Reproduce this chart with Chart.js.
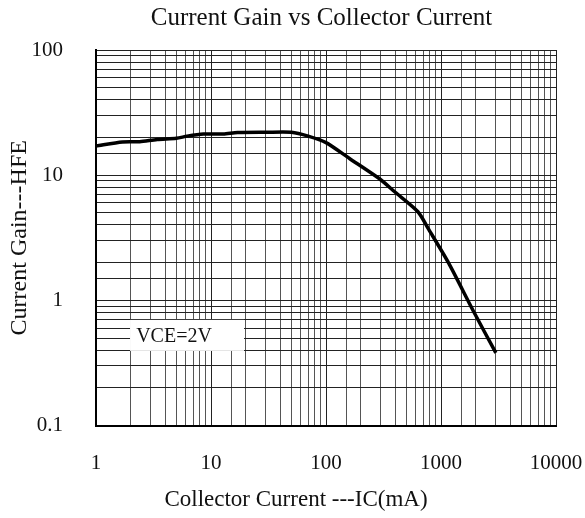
<!DOCTYPE html>
<html>
<head>
<meta charset="utf-8">
<script src="https://cdn.jsdelivr.net/npm/chart.js@4/dist/chart.umd.min.js"></script>
<style>
    html, body { margin: 0; padding: 0; background: #fff; }
    #wrap { width: 585px; height: 518px; }
</style>
</head>
<body>
<div id="wrap"><canvas id="gainChart"></canvas></div>
<script>
// collector current (mA) and current gain
var ic  = [1, 1.7, 2.4, 3.4, 5, 6.2, 8.6, 12.8, 17, 30, 50, 70, 100, 160, 290, 400, 630, 780, 1160, 1900, 3000];
var hfe = [17.1, 18.4, 18.5, 19.3, 19.7, 20.5, 21.3, 21.3, 21.9, 22.0, 22.0, 20.5, 18.2, 13.6, 9.4, 7.3, 5.1, 3.7, 2.0, 0.83, 0.38];

var xTicks = [1, 10, 100, 1000, 10000];
var yTicks = [0.1, 1, 10, 100];

var titleText = 'Current Gain vs Collector Current';
var xTitleText = 'Collector Current ---IC(mA)';
var yTitleText = 'Current Gain---HFE';

// note box inside the plot
var noteText = "VCE=2V";
var noteAt = { x: 4.77, y: 0.52 };

var serif = "'Liberation Serif', 'Times New Roman', serif";

function isDecade(v, list) {
    for (var i = 0; i < list.length; i++) {
        if (Math.abs(v - list[i]) < list[i] * 1e-6) return true;
    }
    return false;
}

// titles are not centred on the plot in the original, so they are placed by hand
var textPlugin = {
    id: 'texts',
    afterDatasetsDraw: function (chart) {
        var ctx = chart.ctx;
        var cx = chart.scales.x.getPixelForValue(noteAt.x);
        var cy = chart.scales.y.getPixelForValue(noteAt.y);
        ctx.save();
        ctx.fillStyle = '#fff';
        ctx.fillRect(cx - 44, cy - 16, 114, 31);
        ctx.fillStyle = '#111';
        ctx.textAlign = 'center';
        ctx.textBaseline = 'middle';
        ctx.font = '20px ' + serif;
        ctx.fillText(noteText, cx, cy + 1);
        ctx.font = '25px ' + serif;
        ctx.fillText(titleText, 321.5, 18);
        ctx.font = '23px ' + serif;
        ctx.fillText(xTitleText, 296, 500);
        ctx.restore();
    }
};

var points = ic.map(function (v, i) { return { x: v, y: hfe[i] }; });

var gain = document.getElementById("gainChart");
var gainChart = new Chart(gain, {
    type: 'line',
    data: {
        datasets: [{
            label: 'HFE',
            data: points,
            fill: false,
            borderColor: '#000',
            borderWidth: 3.5,
            pointRadius: 0,
            tension: 0.25
        }]
    },
    options: {
        responsive: true,
        maintainAspectRatio: false,
        animation: false,
        layout: { padding: { left: 0, right: 29, top: 50, bottom: 0 } },
        plugins: {
            legend: { display: false },
            tooltip: { enabled: false },
            title: { display: false }
        },
        scales: {
            x: {
                type: 'logarithmic',
                min: 1,
                max: 10000,
                afterFit: function (s) {
                    s.height = 92.5;
                    s.paddingLeft = 0;
                    s.paddingRight = 0;
                },
                border: { color: '#000', width: 2 },
                grid: {
                    drawTicks: false,
                    lineWidth: 1,
                    color: function (c) {
                        return isDecade(c.tick.value, xTicks) ? '#222' : '#555';
                    }
                },
                ticks: {
                    autoSkip: false,
                    maxRotation: 0,
                    padding: 25,
                    color: '#111',
                    font: { family: serif, size: 21 },
                    callback: function (v) {
                        return isDecade(v, xTicks) ? String(v) : '';
                    }
                }
            },
            y: {
                type: 'logarithmic',
                min: 0.1,
                max: 100,
                afterFit: function (s) {
                    s.width = 96;
                    s.paddingTop = 0;
                    s.paddingBottom = 0;
                },
                border: { color: '#000', width: 2 },
                grid: {
                    drawTicks: false,
                    lineWidth: 1,
                    color: '#222'
                },
                ticks: {
                    autoSkip: false,
                    padding: 33,
                    color: '#111',
                    font: { family: serif, size: 21 },
                    callback: function (v) {
                        return isDecade(v, yTicks) ? String(v) : '';
                    }
                },
                title: {
                    display: true,
                    text: yTitleText,
                    color: '#111',
                    font: { family: serif, size: 24 },
                    padding: { top: 5.6, bottom: 0 }
                }
            }
        }
    },
    plugins: [textPlugin]
});
</script>
</body>
</html>
